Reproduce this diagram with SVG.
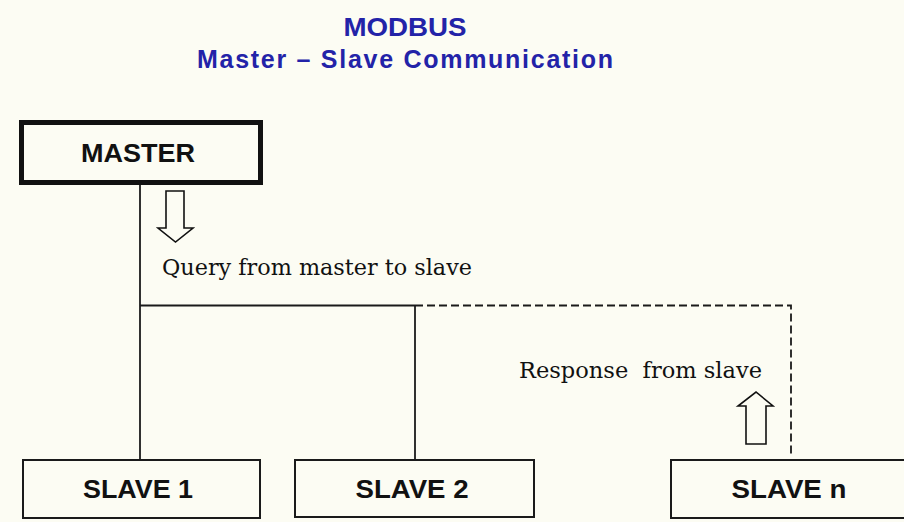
<svg xmlns="http://www.w3.org/2000/svg" width="904" height="522" viewBox="0 0 904 522">
<style>
.bg{fill:#fcfcf3}
.box{fill:none;stroke:#1a1a1a;stroke-width:2}
.master{fill:none;stroke:#111;stroke-width:5}
.lbl{font-family:"Liberation Sans",Arial,sans-serif;font-weight:bold;font-size:25px;fill:#111;text-anchor:middle}
.title{font-family:"Liberation Sans",Arial,sans-serif;font-weight:bold;font-size:25px;fill:#2323a8;text-anchor:middle}
.note{font-family:"DejaVu Serif","Liberation Serif",serif;font-size:22.5px;fill:#111}
.line{stroke:#1a1a1a;stroke-width:1.8;fill:none}
.dash{stroke:#1a1a1a;stroke-width:1.8;fill:none;stroke-dasharray:8 4}
.arrow{fill:#fcfcf3;stroke:#111;stroke-width:1.6;stroke-linejoin:miter}
</style>
<rect class="bg" x="0" y="0" width="904" height="522"/>
<g id="title">
<text class="title" x="405" y="36" textLength="123" lengthAdjust="spacingAndGlyphs">MODBUS</text>
<text class="title" x="405" y="68" textLength="416" lengthAdjust="spacing">Master – Slave Communication</text>
</g>
<g id="connectors">
<line class="line" x1="140" y1="185" x2="140" y2="460"/>
<line class="line" x1="140" y1="305.5" x2="415" y2="305.5"/>
<line class="line" x1="415" y1="305.5" x2="415" y2="460"/>
<polyline class="dash" points="415,305.5 791,305.5 791,456"/>
<polygon class="arrow" points="166,191 184,191 184,228 193,228 175.5,242 158,228 166,228"/>
<polygon class="arrow" points="746,444 766,444 766,406 773,406 756,392 738,406 746,406"/>
<text class="note" x="162" y="275" textLength="310" lengthAdjust="spacingAndGlyphs">Query from master to slave</text>
<text class="note" x="519" y="378" textLength="243" lengthAdjust="spacingAndGlyphs" xml:space="preserve">Response  from slave</text>
</g>
<g id="master">
<rect class="master" x="21.5" y="122.5" width="239" height="60"/>
<text class="lbl" x="138" y="162" textLength="114" lengthAdjust="spacingAndGlyphs">MASTER</text>
</g>
<g id="slave1">
<rect class="box" x="23" y="460" width="237" height="58"/>
<text class="lbl" x="138" y="498" textLength="110" lengthAdjust="spacingAndGlyphs">SLAVE 1</text>
</g>
<g id="slave2">
<rect class="box" x="295" y="460" width="239" height="57"/>
<text class="lbl" x="412" y="498" textLength="113" lengthAdjust="spacingAndGlyphs">SLAVE 2</text>
</g>
<g id="slaven">
<rect class="box" x="671" y="460" width="250" height="58"/>
<text class="lbl" x="789" y="498" textLength="115" lengthAdjust="spacingAndGlyphs">SLAVE n</text>
</g>
</svg>
